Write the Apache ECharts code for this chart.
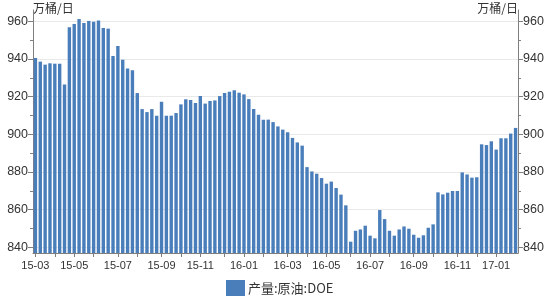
<!DOCTYPE html>
<html><head><meta charset="utf-8">
<script src="https://cdn.jsdelivr.net/npm/echarts@6/dist/echarts.min.js"></script>
<style>html,body{margin:0;padding:0;background:#fff}#c{width:550px;height:300px}</style>
</head><body><div id="c"></div>
<script>
const weeks = ['2015-03-06','2015-03-13','2015-03-20','2015-03-27','2015-04-03','2015-04-10','2015-04-17','2015-04-24','2015-05-01','2015-05-08','2015-05-15','2015-05-22','2015-05-29','2015-06-05','2015-06-12','2015-06-19','2015-06-26','2015-07-03','2015-07-10','2015-07-17','2015-07-24','2015-07-31','2015-08-07','2015-08-14','2015-08-21','2015-08-28','2015-09-04','2015-09-11','2015-09-18','2015-09-25','2015-10-02','2015-10-09','2015-10-16','2015-10-23','2015-10-30','2015-11-06','2015-11-13','2015-11-20','2015-11-27','2015-12-04','2015-12-11','2015-12-18','2015-12-25',
'2016-01-01','2016-01-08','2016-01-15','2016-01-22','2016-01-29','2016-02-05','2016-02-12','2016-02-19','2016-02-26','2016-03-04','2016-03-11','2016-03-18','2016-03-25','2016-04-01','2016-04-08','2016-04-15','2016-04-22','2016-04-29','2016-05-06','2016-05-13','2016-05-20','2016-05-27','2016-06-03','2016-06-10','2016-06-17','2016-06-24','2016-07-01','2016-07-08','2016-07-15','2016-07-22','2016-07-29','2016-08-05','2016-08-12','2016-08-19','2016-08-26','2016-09-02','2016-09-09','2016-09-16','2016-09-23','2016-09-30','2016-10-07','2016-10-14','2016-10-21','2016-10-28','2016-11-04','2016-11-11','2016-11-18','2016-11-25','2016-12-02','2016-12-09','2016-12-16','2016-12-23','2016-12-30',
'2017-01-06','2017-01-13','2017-01-20','2017-01-27'];

const production = [
 940.5, 938.6, 937.0, 937.7, 937.5, 937.5, 926.5, 956.8, 958.6, 961.2, 959.1, 960.2, 959.7, 960.4, 956.5, 956.1, 941.6, 946.9, 939.6, 934.9,
 934.0, 921.9, 913.4, 911.8, 913.4, 909.9, 917.3, 909.9, 909.9, 911.3, 915.9, 918.6, 918.2, 916.6, 920.3, 916.3, 917.7, 918.0, 920.3, 921.9, 922.6, 923.4, 922.1, 921.2, 918.7, 913.4, 910.4, 907.8, 907.8, 906.5,
 904.2, 902.5, 901.1, 898.1, 895.7, 894.0, 882.6, 880.3, 879.1, 876.8, 873.8, 874.9, 871.5, 868.0, 862.3, 843.0, 848.8, 849.5, 851.5, 846.2, 844.8, 859.8, 855.0, 848.8, 846.2, 849.5, 851.1, 849.9, 846.7, 845.1,
 846.4, 850.4, 852.2, 869.2, 868.1, 869.0, 869.9, 869.9, 879.8, 878.7, 877.0, 877.2, 894.7, 894.3, 896.3, 891.9, 897.9, 897.9, 900.4, 903.4
];

const yTicks = [840, 860, 880, 900, 920, 940, 960];
const yMinorTicks = [850, 870, 890, 910, 930, 950];
const unitLabel = '万桶/日';
const seriesName = '产量:原油:DOE';

const DAY = 864e5;
function parseDate(s){ const p = s.split('-'); return Date.UTC(+p[0], +p[1]-1, +p[2]); }
// month that starts inside each weekly band (or null)
const bandMonth = weeks.map(function(w, i){
  const t = parseDate(w);
  if (i === 0) return new Date(t);
  const a = new Date(t - 3.5*DAY), b = new Date(t + 3.5*DAY);
  return a.getUTCMonth() !== b.getUTCMonth() ? b : null;
});
const labelText = {};
weeks.forEach(function(w, i){
  const m = bandMonth[i];
  if (m && m.getUTCMonth() % 2 === 0) {
    labelText[w] = String(m.getUTCFullYear()).slice(2) + '-' + String(m.getUTCMonth()+1).padStart(2,'0');
  }
});

const axisColor = '#7f7f7f';
const textColor = '#333333';
const yMin = 837, yMax = 966;

function majorAxis(pos){
  return {
    type: 'value', position: pos, min: yMin, max: yMax,
    name: unitLabel, nameLocation: 'end', nameGap: 2,
    nameTextStyle: { color: textColor, fontSize: 12, align: pos === 'left' ? 'left' : 'right', verticalAlign: 'middle', fontFamily: 'Noto Sans CJK SC' },
    axisLine: { show: true, lineStyle: { color: axisColor } },
    axisTick: { show: true, inside: false, length: 5, customValues: yTicks, lineStyle: { color: axisColor } },
    axisLabel: { customValues: yTicks, color: textColor, fontSize: 12.5, margin: 5, fontFamily: 'Liberation Sans' },
    splitLine: { show: pos === 'left', lineStyle: { color: '#e9e9e9', width: 1 } }
  };
}
function minorAxis(pos){
  return {
    type: 'value', position: pos, min: yMin, max: yMax,
    axisLine: { show: false },
    axisTick: { show: true, length: 3, customValues: yMinorTicks, lineStyle: { color: axisColor } },
    axisLabel: { show: false },
    splitLine: { show: false }
  };
}

const chart = echarts.init(document.getElementById('c'), null, { renderer: 'canvas' });
chart.setOption({
  animation: false,
  backgroundColor: '#ffffff',
  grid: { left: 33, right: 32, top: 10, bottom: 47, containLabel: false },
  legend: {
    data: [seriesName], left: 226, top: 280, padding: 0, icon: 'rect', itemWidth: 19, itemHeight: 16, itemGap: 4,
    textStyle: { color: textColor, fontSize: 13, fontFamily: 'Noto Sans CJK SC', padding: [0,0,0,-2] }
  },
  xAxis: {
    type: 'category', data: weeks, boundaryGap: true,
    axisLine: { show: true, lineStyle: { color: axisColor } },
    axisTick: { show: true, alignWithLabel: true, length: 4, lineStyle: { color: axisColor },
      interval: function(i){ return bandMonth[i] !== null; } },
    axisLabel: { color: textColor, fontSize: 11, margin: 7, fontFamily: 'Liberation Sans',
      interval: function(i, v){ return labelText[v] !== undefined; },
      formatter: function(v){ return labelText[v] || ''; } },
    splitLine: { show: false }
  },
  yAxis: [majorAxis('left'), majorAxis('right'), minorAxis('left'), minorAxis('right')],
  series: [{
    name: seriesName, type: 'bar', data: production, yAxisIndex: 0,
    barCategoryGap: '30%',
    itemStyle: { color: '#4a7ebb' }
  }]
});
</script>
</body></html>
